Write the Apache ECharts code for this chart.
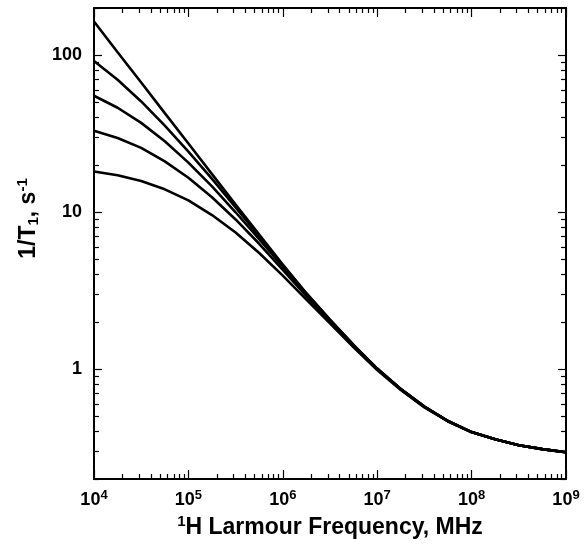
<!DOCTYPE html>
<html><head><meta charset="utf-8">
<script src="https://cdn.jsdelivr.net/npm/echarts@6/dist/echarts.min.js"></script>
<style>html,body{margin:0;padding:0;background:#fff}#c{width:584px;height:545px}</style>
</head><body><div id="c"></div>
<script>
// ---- data ----
const frequencies = [1e4, 17783, 31623, 56234, 1e5, 177828, 316228, 562341, 1e6, 1778279, 3162278, 5623413, 1e7, 17782794, 31622777, 56234133, 1e8, 177827941, 316227766, 562341325, 1e9];
const curveA = [164, 104.5, 67.0, 42.8, 27.4, 17.5, 11.2, 7.2, 4.65, 3.05, 2.07, 1.43, 1.01, 0.748, 0.578, 0.468, 0.398, 0.358, 0.328, 0.31, 0.296];
const curveB = [92, 69.9, 50.8, 35.6, 24.3, 16.3, 10.75, 7.05, 4.6, 3.03, 2.06, 1.425, 1.01, 0.748, 0.578, 0.468, 0.398, 0.358, 0.328, 0.31, 0.296];
const curveC = [55.2, 46.3, 37.1, 28.3, 20.7, 14.6, 10.0, 6.75, 4.5, 3.0, 2.05, 1.42, 1.005, 0.747, 0.578, 0.468, 0.398, 0.358, 0.328, 0.31, 0.296];
const curveD = [33.1, 29.7, 25.7, 21.1, 16.6, 12.45, 9.0, 6.3, 4.3, 2.92, 2.01, 1.405, 1.0, 0.745, 0.576, 0.467, 0.398, 0.358, 0.328, 0.31, 0.296];
const curveE = [18.2, 17.2, 15.8, 14.0, 11.9, 9.6, 7.44, 5.5, 3.95, 2.78, 1.96, 1.38, 0.99, 0.738, 0.572, 0.465, 0.397, 0.358, 0.328, 0.31, 0.296];

const xMajorTicks = [1e4, 1e5, 1e6, 1e7, 1e8, 1e9];
const yMajorTicks = [1, 10, 100];
const yLabels = [1, 10, 100];
const xMinorTicks = [];
[1e4, 1e5, 1e6, 1e7, 1e8].forEach(d => { for (let m = 2; m <= 9; m++) xMinorTicks.push(m * d); });
const yMinorTicks = [];
[0.1, 1, 10].forEach(d => { for (let m = 2; m <= 9; m++) yMinorTicks.push(+(m * d).toPrecision(3)); });
yMinorTicks.push(200);

const xTitle = '{sup|1}{b|H Larmour Frequency, MHz}';
const yTitle = '{b|1/T}{sub|1}{b|, s}{sup|-1}';

// ---- chart ----
const FONT = '"Liberation Sans", Arial, Helvetica, sans-serif';
const chart = echarts.init(document.getElementById('c'), null, {renderer: 'canvas'});

function makeAxis(kind, position, ticks, len, showLine, extra) {
  const isX = kind === 'x';
  return Object.assign({
    type: 'log', logBase: 10, position: position,
    min: isX ? 1e4 : 0.2, max: isX ? 1e9 : 200,
    axisLine: {show: showLine, onZero: false, lineStyle: {color: '#000', width: 2}},
    axisTick: {show: true, inside: true, length: len, customValues: ticks, lineStyle: {color: '#000', width: 1.2}},
    axisLabel: {show: false},
    splitLine: {show: false}, minorTick: {show: false}, minorSplitLine: {show: false}
  }, extra || {});
}

const tickRich = {
  b: {fontSize: 18, fontWeight: 'bold', fontFamily: FONT, color: '#000'},
  s: {fontSize: 13, fontWeight: 'bold', fontFamily: FONT, color: '#000', padding: [0, 0, 9, 0]}
};
const titleRich = {
  b: {fontSize: 23, fontWeight: 'bold', fontFamily: FONT, color: '#000'},
  sup: {fontSize: 15, fontWeight: 'bold', fontFamily: FONT, color: '#000', padding: [0, 0, 12, 0]},
  sub: {fontSize: 15, fontWeight: 'bold', fontFamily: FONT, color: '#000', padding: [10, 0, 0, 0]}
};

const xAxes = [
  makeAxis('x', 'bottom', xMajorTicks, 9, true, {
    axisLabel: {show: true, customValues: xMajorTicks, margin: 10,
      formatter: v => '{b|10}{s|' + Math.round(Math.log10(v)) + '}', rich: tickRich},
    name: xTitle, nameLocation: 'middle', nameGap: 33, nameTextStyle: {rich: titleRich}
  }),
  makeAxis('x', 'bottom', xMinorTicks, 5, false),
  makeAxis('x', 'top', xMajorTicks, 9, true),
  makeAxis('x', 'top', xMinorTicks, 5, false)
];
const yAxes = [
  makeAxis('y', 'left', yMajorTicks, 8, true, {
    axisLabel: {show: true, customValues: yLabels, margin: 12,
      fontSize: 18, fontWeight: 'bold', fontFamily: FONT, color: '#000',
      formatter: v => String(Math.round(v))},
    name: yTitle, nameLocation: 'middle', nameRotate: 90, nameGap: 52,
    nameTextStyle: {rich: titleRich, padding: [0, 0, 0, 50]}
  }),
  makeAxis('y', 'left', yMinorTicks, 5, false),
  makeAxis('y', 'right', yMajorTicks, 8, true),
  makeAxis('y', 'right', yMinorTicks, 5, false)
];

const curves = [curveA, curveB, curveC, curveD, curveE];
const series = curves.map((c, k) => ({
  type: 'line', name: 'curve' + k, xAxisIndex: 0, yAxisIndex: 0,
  data: frequencies.map((f, i) => [f, c[i]]),
  showSymbol: false, symbol: 'none', smooth: false, clip: true,
  lineStyle: {color: '#000', width: 2.6}, emphasis: {disabled: true}
}));

chart.setOption({
  animation: false,
  backgroundColor: '#fff',
  grid: {left: 94, right: 18, top: 8, bottom: 66, containLabel: false, outerBoundsMode: 'none'},
  xAxis: xAxes,
  yAxis: yAxes,
  series: series
});
</script></body></html>
